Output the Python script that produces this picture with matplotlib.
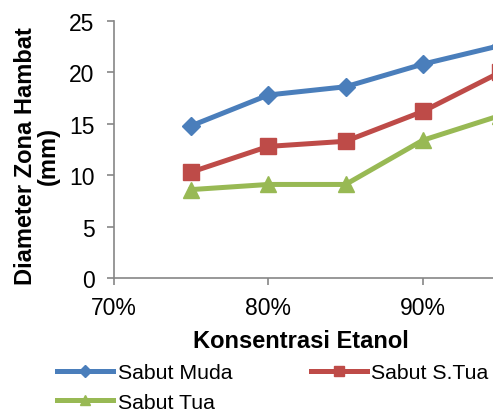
import matplotlib.pyplot as plt
from matplotlib.ticker import FuncFormatter

plt.rcParams['font.family'] = ['Liberation Sans', 'DejaVu Sans']

# konsentrasi etanol dan diameter zona hambat (mm)
konsentrasi = [0.75, 0.80, 0.85, 0.90, 0.95]
sabut_muda = [14.8, 17.8, 18.6, 20.8, 22.6]
sabut_stua = [10.3, 12.8, 13.3, 16.2, 20.0]
sabut_tua = [8.6, 9.1, 9.1, 13.4, 15.8]

fig = plt.figure(figsize=(4.93, 4.14), dpi=100)
# axes run off the right edge of the figure
ax = fig.add_axes([0.231, 0.326, 0.94, 0.621])

l1, = ax.plot(konsentrasi, sabut_muda, color='#4A7EBB', lw=3.6, marker='D',
              ms=9, label='Sabut Muda')
l2, = ax.plot(konsentrasi, sabut_stua, color='#BE4B48', lw=3.6, marker='s',
              ms=11, label='Sabut S.Tua')
l3, = ax.plot(konsentrasi, sabut_tua, color='#98B954', lw=3.6, marker='^',
              ms=11, label='Sabut Tua')

ax.set_xlim(0.70, 1.00)
ax.set_ylim(0, 25)
ax.set_xticks([0.70, 0.80, 0.90])
ax.set_yticks([0, 5, 10, 15, 20, 25])
ax.xaxis.set_major_formatter(FuncFormatter(lambda v, p: '%d%%' % round(v * 100)))

for s in ['top', 'right']:
    ax.spines[s].set_visible(False)
for s in ['left', 'bottom']:
    ax.spines[s].set_color('#868686')
    ax.spines[s].set_linewidth(1.2)
ax.tick_params(axis='both', colors='#868686', labelcolor='black', labelsize=16.5,
               length=5, width=1.2)
ax.tick_params(axis='x', pad=8)
ax.tick_params(axis='y', pad=9)

fig.text(301 / 493, 1 - 342 / 414, 'Konsentrasi Etanol', fontsize=17,
         fontweight='bold', ha='center', va='center')
fig.text(37 / 493, 1 - 156 / 414, 'Diameter Zona Hambat\n(mm)', fontsize=17,
         fontweight='bold', ha='center', va='center', rotation=90,
         linespacing=0.95)

# urutan handle agar baris pertama Muda, S.Tua
fig.legend([l1, l3, l2], ['Sabut Muda', 'Sabut Tua', 'Sabut S.Tua'],
           loc='upper left', bbox_to_anchor=(57 / 493, 1 - 364 / 414), ncol=2,
           frameon=False, fontsize=15.3, handlelength=2.65,
           handletextpad=0.2, columnspacing=3.7, labelspacing=0.5,
           borderaxespad=0, borderpad=0, markerscale=0.7)

fig.savefig('out.png', dpi=100)
